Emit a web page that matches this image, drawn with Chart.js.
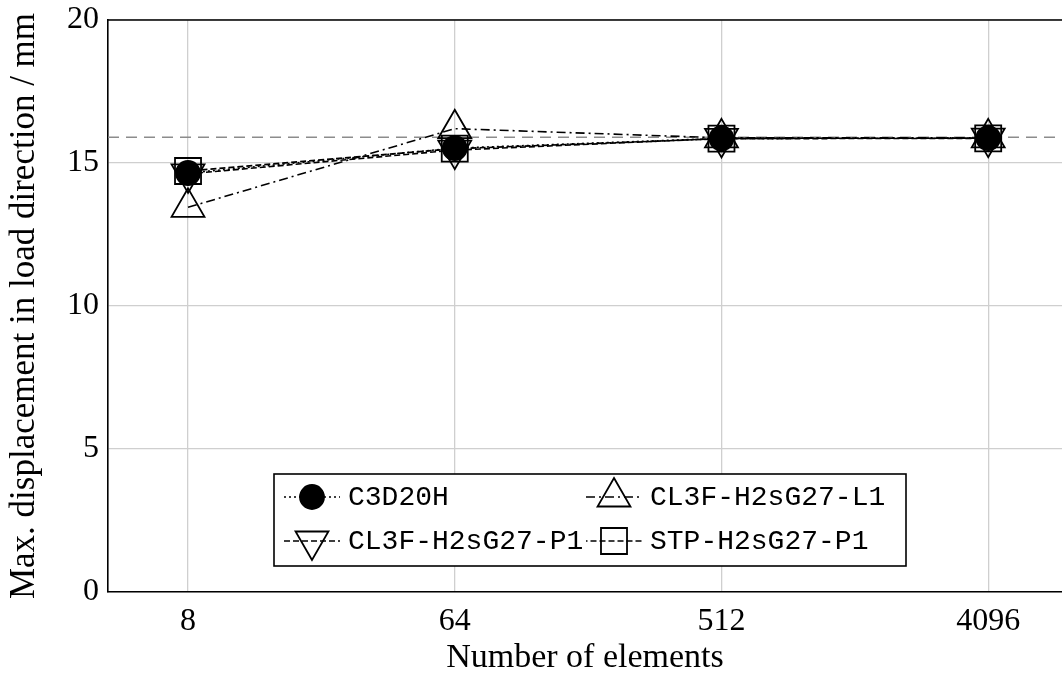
<!DOCTYPE html>
<html><head><meta charset="utf-8">
<script src="https://cdn.jsdelivr.net/npm/chart.js@4.4.1/dist/chart.umd.min.js"></script>
<style>html,body{margin:0;padding:0;background:#fff;overflow:hidden}</style>
</head><body>
<canvas id="c" width="1062" height="675"></canvas>
<script>
// ---- data ----
const elements = [8, 64, 512, 4096];
const c3d20h = [14.65, 15.52, 15.86, 15.87];
const cl3fL1 = [13.45, 16.2, 15.88, 15.88];
const cl3fP1 = [14.62, 15.45, 15.86, 15.87];
const stpP1 = [14.72, 15.5, 15.85, 15.86];
const seriesNames = ['C3D20H', 'CL3F-H2sG27-L1', 'CL3F-H2sG27-P1', 'STP-H2sG27-P1'];
const yTickValues = [0, 5, 10, 15, 20];
const referenceValue = 15.9;
const xTitle = 'Number of elements';
const yTitle = 'Max. displacement in load direction / mm';

const serif = '"Liberation Serif", "DejaVu Serif", serif';
const mono = '"Liberation Mono", "DejaVu Sans Mono", monospace';

function pts(vals) { return elements.map((e, i) => ({x: e, y: vals[i]})); }

const datasets = [
  {label: seriesNames[0], data: pts(c3d20h), pointStyle: 'circle', pointRadius: 12,
   backgroundColor: '#000', borderDash: [2, 3]},
  {label: seriesNames[1], data: pts(cl3fL1), pointStyle: 'triangle', pointRadius: 19,
   backgroundColor: 'rgba(0,0,0,0)', borderDash: [9, 4, 2, 4]},
  {label: seriesNames[2], data: pts(cl3fP1), pointStyle: 'triangle', pointRadius: 19, pointRotation: 180,
   backgroundColor: 'rgba(0,0,0,0)', borderDash: [6, 3]},
  {label: seriesNames[3], data: pts(stpP1), pointStyle: 'rect', pointRadius: 18.4,
   backgroundColor: 'rgba(0,0,0,0)', borderDash: [6, 3], borderDashOffset: 4.5}
].map(d => Object.assign({
  borderColor: '#000', borderWidth: 1.6, pointBorderColor: '#000', pointBorderWidth: 1.8,
  pointBackgroundColor: d.backgroundColor, fill: false, tension: 0, clip: false
}, d));

const legendPos = [
  {x: 284, y: 497}, {x: 586, y: 497}, {x: 284, y: 541}, {x: 586, y: 541}
];

function drawMarker(ctx, ds, x, y) {
  ctx.save();
  ctx.strokeStyle = '#000';
  ctx.fillStyle = ds.pointBackgroundColor;
  ctx.lineWidth = ds.pointBorderWidth;
  ctx.setLineDash([]);
  if (Chart.helpers && Chart.helpers.drawPoint) {
    Chart.helpers.drawPoint(ctx, {pointStyle: ds.pointStyle, rotation: ds.pointRotation || 0,
      radius: ds.pointRadius, borderWidth: ds.pointBorderWidth}, x, y);
  }
  ctx.restore();
}

const extras = {
  id: 'extras',
  beforeDatasetsDraw(chart) {
    const {ctx, chartArea: a, scales} = chart;
    const yy = scales.y.getPixelForValue(referenceValue);
    ctx.save();
    ctx.strokeStyle = '#8c8c8c';
    ctx.lineWidth = 1.5;
    ctx.setLineDash([11, 7]);
    ctx.beginPath(); ctx.moveTo(a.left, yy); ctx.lineTo(a.right, yy); ctx.stroke();
    ctx.restore();
  },
  afterDraw(chart) {
    const {ctx, chartArea: a} = chart;
    ctx.save();
    ctx.strokeStyle = '#000'; ctx.lineWidth = 1.6;
    ctx.beginPath(); ctx.moveTo(a.left, a.top); ctx.lineTo(a.right, a.top); ctx.stroke();
    ctx.fillStyle = '#fff';
    ctx.fillRect(274, 474, 632, 92);
    ctx.strokeRect(274, 474, 632, 92);
    chart.data.datasets.forEach((ds, i) => {
      const p = legendPos[i];
      ctx.save();
      ctx.strokeStyle = '#000'; ctx.lineWidth = ds.borderWidth;
      ctx.setLineDash(ds.borderDash);
      ctx.lineDashOffset = ds.borderDashOffset || 0;
      ctx.beginPath(); ctx.moveTo(p.x, p.y); ctx.lineTo(p.x + 56, p.y); ctx.stroke();
      ctx.restore();
      drawMarker(ctx, ds, p.x + 28, p.y);
      ctx.fillStyle = '#000';
      ctx.font = '28px ' + mono;
      ctx.textBaseline = 'middle';
      ctx.textAlign = 'left';
      ctx.fillText(ds.label, p.x + 64, p.y + 1);
    });
    ctx.restore();
  }
};

new Chart(document.getElementById('c'), {
  type: 'line',
  data: {datasets},
  plugins: [extras],
  options: {
    responsive: false,
    animation: false,
    layout: {autoPadding: false, padding: {top: 20, right: 0, left: 0, bottom: 0}},
    plugins: {legend: {display: false}, tooltip: {enabled: false}},
    scales: {
      x: {
        type: 'logarithmic',
        min: Math.pow(2, 2.1),
        max: Math.pow(2, 12.83),
        afterBuildTicks: s => { s.ticks = elements.map(v => ({value: v})); },
        afterFit: s => { s.height = 83; s.paddingRight = 0; s.paddingLeft = 0; },
        ticks: {callback: v => String(v), color: '#000', padding: 10,
          font: {family: serif, size: 32}, maxRotation: 0, autoSkip: false},
        grid: {color: '#cfcfcf', lineWidth: 1.3, drawTicks: false},
        border: {color: '#000', width: 1.6},
        title: {display: true, text: xTitle, color: '#000', font: {family: serif, size: 34, lineHeight: 1},
          padding: {top: 0, bottom: 0}}
      },
      y: {
        min: 0, max: 20,
        afterBuildTicks: s => { s.ticks = yTickValues.map(v => ({value: v})); },
        afterFit: s => { s.width = 108; s.paddingTop = 0; s.paddingBottom = 0; },
        ticks: {color: '#000', padding: 9, font: {family: serif, size: 32}},
        grid: {color: '#cfcfcf', lineWidth: 1.3, drawTicks: false},
        border: {color: '#000', width: 1.6},
        title: {display: true, text: yTitle, color: '#000', font: {family: serif, size: 35, lineHeight: 1},
          padding: {top: 7, bottom: 0}}
      }
    }
  }
});
</script>
</body></html>
